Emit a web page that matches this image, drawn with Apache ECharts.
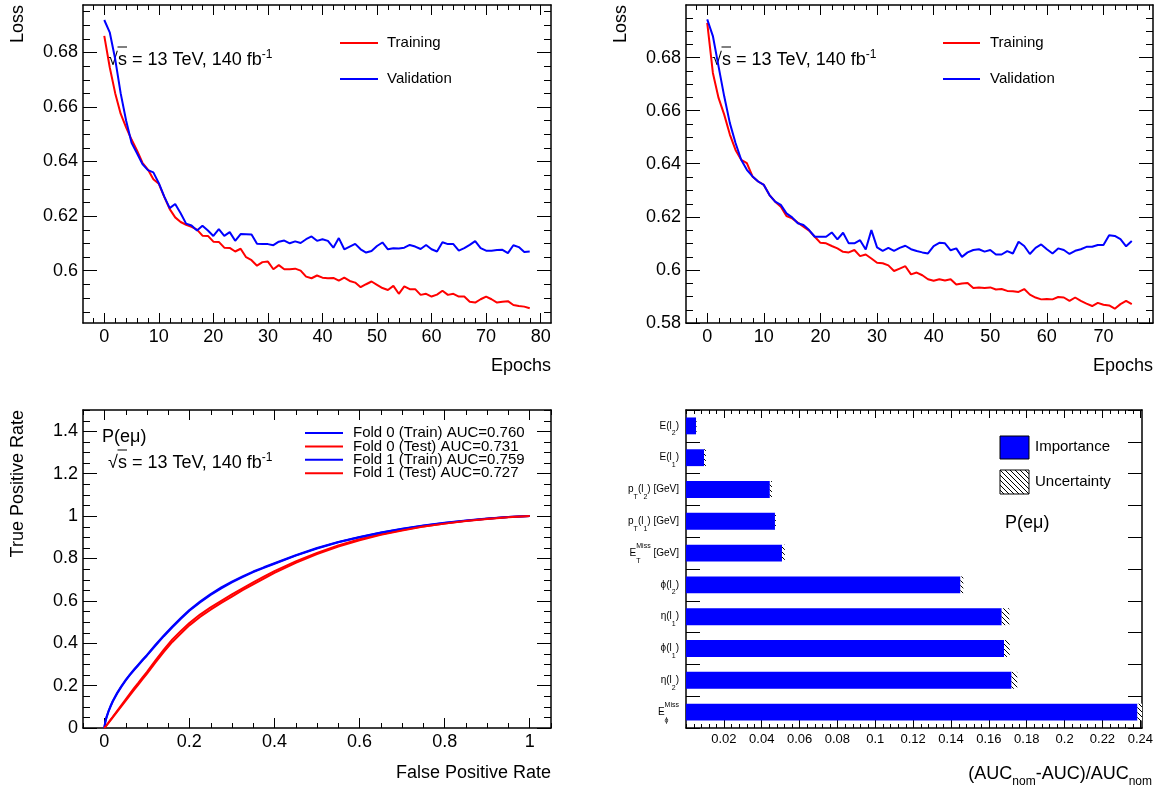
<!DOCTYPE html>
<html><head><meta charset="utf-8">
<script src="https://cdn.jsdelivr.net/npm/echarts@6/dist/echarts.min.js"></script>
<style>html,body{margin:0;padding:0;background:#fff}#c{width:1165px;height:792px}</style>
</head><body><div id="c"></div>
<script>
// ---------------- data ----------------
const lossTrainA = [0.686,0.6745,0.665,0.6575,0.6525,0.648,0.644,0.6395,0.637,0.6335,
0.6318,0.627,0.6225,0.6195,0.6178,0.6168,0.616,0.615,0.6128,0.6127,
0.6106,0.6105,0.6084,0.6083,0.607,0.608,0.6049,0.6038,0.6018,0.6031,
0.6033,0.6005,0.602,0.6005,0.6005,0.6007,0.6,0.5978,0.5972,0.5982,
0.5974,0.5972,0.5973,0.5963,0.5974,0.5962,0.5956,0.5939,0.595,0.596,
0.5948,0.5936,0.5929,0.5944,0.5915,0.5942,0.5932,0.5932,0.5911,0.5915,
0.5905,0.5912,0.5926,0.5911,0.5915,0.5905,0.5905,0.5886,0.5883,0.5895,
0.5905,0.5895,0.5883,0.5886,0.5888,0.5874,0.587,0.5868,0.5862];
const lossValA = [0.6918,0.6873,0.6775,0.665,0.655,0.6468,0.643,0.639,0.6368,0.636,
0.632,0.6271,0.6229,0.6244,0.621,0.6172,0.6165,0.6147,0.6164,0.6147,
0.6127,0.6152,0.6127,0.6141,0.6109,0.6134,0.6133,0.6132,0.6098,0.6097,
0.6097,0.6093,0.6106,0.611,0.61,0.6107,0.6101,0.6115,0.6125,0.6109,
0.6115,0.6109,0.6084,0.6119,0.6078,0.6088,0.6098,0.6078,0.6066,0.6072,
0.609,0.6103,0.6078,0.6082,0.6081,0.6084,0.6094,0.6088,0.6079,0.6094,
0.6078,0.607,0.6104,0.6097,0.6097,0.6073,0.6082,0.6094,0.6108,0.6082,
0.6073,0.6073,0.6075,0.6076,0.6064,0.6093,0.6086,0.6068,0.607];
const lossTrainB = [0.6931,0.6742,0.6648,0.6585,0.651,0.6452,0.6415,0.6402,0.6352,0.6333,
0.632,0.6282,0.6257,0.6238,0.6203,0.6194,0.6178,0.6163,0.6148,0.6125,
0.6102,0.61,0.609,0.6081,0.6068,0.6066,0.6075,0.6052,0.6058,0.6043,
0.6027,0.6025,0.6017,0.5996,0.6005,0.6014,0.5983,0.599,0.598,0.5965,
0.5959,0.5965,0.596,0.5965,0.5945,0.5949,0.5951,0.5932,0.5934,0.5932,
0.5934,0.5926,0.5928,0.5921,0.592,0.5917,0.5928,0.5907,0.5896,0.5889,
0.589,0.5889,0.5898,0.5896,0.5883,0.5896,0.5883,0.5873,0.5864,0.5876,
0.5869,0.5866,0.5854,0.5871,0.5883,0.5871];
const lossValB = [0.6944,0.6881,0.6767,0.6654,0.6553,0.6478,0.6415,0.6377,0.6352,0.6333,
0.632,0.6282,0.6257,0.6245,0.6213,0.6198,0.6176,0.6169,0.615,0.6125,
0.6125,0.6125,0.6141,0.6115,0.614,0.61,0.61,0.6112,0.6077,0.615,
0.6085,0.6072,0.6083,0.6072,0.6083,0.6091,0.6078,0.6071,0.6066,0.6062,
0.609,0.6102,0.61,0.6074,0.6081,0.6049,0.6066,0.6075,0.6078,0.6069,
0.6075,0.6058,0.6058,0.6071,0.6062,0.6106,0.609,0.606,0.6083,0.6096,
0.6078,0.6062,0.6081,0.6075,0.606,0.6072,0.6078,0.6087,0.6087,0.6094,
0.6094,0.6131,0.6128,0.6116,0.6089,0.6109];

const rocFpr     = [0,0.0025,0.005,0.01,0.015,0.02,0.03,0.04,0.05,0.06,0.07,0.08,0.09,0.1,
                    0.12,0.14,0.16,0.18,0.2,0.225,0.25,0.275,0.3,0.325,0.35,0.375,0.4,
                    0.45,0.5,0.55,0.6,0.65,0.7,0.75,0.8,0.85,0.9,0.95,1.0];
const rocF0Train = [0,0.03,0.05,0.08,0.105,0.128,0.165,0.197,0.226,0.252,0.276,0.299,0.322,0.344,
                    0.392,0.437,0.479,0.519,0.557,0.596,0.632,0.663,0.69,0.715,0.738,0.758,0.777,
                    0.815,0.849,0.877,0.901,0.922,0.94,0.955,0.968,0.979,0.988,0.995,1.0];
const rocF0Test  = [0,0.006,0.013,0.026,0.04,0.053,0.08,0.107,0.134,0.161,0.188,0.213,0.239,0.264,
                    0.318,0.37,0.418,0.458,0.495,0.535,0.569,0.6,0.63,0.659,0.687,0.714,0.74,
                    0.786,0.826,0.861,0.89,0.914,0.934,0.951,0.965,0.977,0.987,0.995,1.0];
const rocF1Train = [0,0.028,0.048,0.078,0.102,0.125,0.162,0.194,0.223,0.249,0.273,0.296,0.319,0.341,
                    0.388,0.433,0.475,0.515,0.553,0.592,0.628,0.659,0.687,0.712,0.735,0.755,0.775,
                    0.813,0.847,0.876,0.9,0.921,0.939,0.954,0.967,0.978,0.987,0.995,1.0];
const rocF1Test  = [0,0.005,0.011,0.024,0.037,0.05,0.076,0.102,0.128,0.154,0.18,0.205,0.23,0.255,
                    0.308,0.359,0.406,0.446,0.484,0.524,0.558,0.59,0.62,0.65,0.678,0.705,0.732,
                    0.779,0.82,0.856,0.886,0.911,0.932,0.95,0.964,0.976,0.986,0.994,1.0];
const rocNames = ['Fold 0 (Train) AUC=0.760','Fold 0 (Test) AUC=0.731','Fold 1 (Train) AUC=0.759','Fold 1 (Test) AUC=0.727'];

const featureKeys = ['E(l2)','E(l1)','pT(l2)','pT(l1)','ETmiss','phi(l2)','eta(l1)','phi(l1)','eta(l2)','Ephimiss'];
const importance  = [0.0053,0.0095,0.0443,0.047,0.0507,0.145,0.1668,0.168,0.172,0.2385];
const uncertainty = [0.0003,0.001,0.0011,0.0005,0.0015,0.0015,0.004,0.003,0.003,0.0024];

const lossTicksA = [0.6,0.62,0.64,0.66,0.68];
const lossTicksB = [0.58,0.6,0.62,0.64,0.66,0.68];
const epochTicksA = [0,10,20,30,40,50,60,70,80];
const epochTicksB = [0,10,20,30,40,50,60,70];
const rocTicksX = [0,0.2,0.4,0.6,0.8,1];
const rocTicksY = [0,0.2,0.4,0.6,0.8,1,1.2,1.4];
const aucTicks = [0.02,0.04,0.06,0.08,0.1,0.12,0.14,0.16,0.18,0.2,0.22,0.24];

// ---------------- helpers ----------------
const FONT = '"Liberation Sans", Arial, Helvetica, sans-serif';
function minorsOf(min, max, step, majors) {
  const out = [];
  const s = Math.ceil(min / step - 1e-9), e = Math.floor(max / step + 1e-9);
  for (let k = s; k <= e; k++) {
    const v = +(k * step).toFixed(6);
    if (!majors.some(m => Math.abs(m - v) < step * 1e-3)) out.push(v);
  }
  return out;
}
// one axis per side (labelled side first), major ticks only
function valueAxes(gridIndex, posA, posB, min, max, majors, o) {
  const base = {type: 'value', gridIndex, min, max, splitLine: {show: false}, silent: true};
  return [posA, posB].map((pos, side) => Object.assign({}, base, {
    position: pos,
    axisLine: {show: true, onZero: false, lineStyle: {color: '#000', width: 1.5}},
    axisTick: {show: true, inside: true, length: o.maj, customValues: majors, lineStyle: {color: '#000', width: 1}},
    axisLabel: side === 0 ? {show: true, customValues: majors, margin: o.margin, fontSize: o.fs, color: '#000',
      fontFamily: FONT, formatter: v => String(+(+v).toFixed(4))} : {show: false}
  }));
}
// minor ticks on all four sides, placed through the axes' scales
function minorTickSeries(xi, yi, xMinors, yMinors, xRef, yRef, lenX, lenY) {
  const data = xMinors.map(v => [v, yRef, 0]).concat(yMinors.map(v => [xRef, v, 1]));
  return {type: 'custom', xAxisIndex: xi, yAxisIndex: yi, data, silent: true, animation: false, clip: false, z: 3,
    encode: {x: 0, y: 1},
    renderItem(params, api) {
      const cs = params.coordSys;
      const p = api.coord([api.value(0), api.value(1)]);
      const st = {stroke: '#000', lineWidth: 1};
      if (api.value(2) === 0) {
        const x = Math.round(p[0]) + 0.5, b = cs.y + cs.height, t = cs.y;
        return {type: 'group', children: [
          {type: 'line', shape: {x1: x, y1: b, x2: x, y2: b - lenX}, style: st},
          {type: 'line', shape: {x1: x, y1: t, x2: x, y2: t + lenX}, style: st}]};
      }
      const y = Math.round(p[1]) + 0.5, l = cs.x, r = cs.x + cs.width;
      return {type: 'group', children: [
        {type: 'line', shape: {x1: l, y1: y, x2: l + lenY, y2: y}, style: st},
        {type: 'line', shape: {x1: r, y1: y, x2: r - lenY, y2: y}, style: st}]};
    }};
}

const grids = [
  {left: 83, top: 5, width: 468, height: 318},
  {left: 686, top: 5, width: 467, height: 318},
  {left: 83, top: 410, width: 468, height: 318},
  {left: 686, top: 410, width: 456, height: 318}
].map(g => Object.assign(g, {containLabel: false, outerBoundsMode: 'none'}));

const rngA = {x: [-3.9, 81.9], y: [0.5808, 0.6973]};
const rngB = {x: [-3.75, 78.75], y: [0.58, 0.6998]};
const rngR = {x: [-0.05, 1.05], y: [0, 1.5]};
const rngF = {x: [0, 0.2409]};

const xAxes = [].concat(
  valueAxes(0, 'bottom', 'top', rngA.x[0], rngA.x[1], epochTicksA, {maj: 10, margin: 5, fs: 18}),
  valueAxes(1, 'bottom', 'top', rngB.x[0], rngB.x[1], epochTicksB, {maj: 10, margin: 5, fs: 18}),
  valueAxes(2, 'bottom', 'top', rngR.x[0], rngR.x[1], rocTicksX, {maj: 10, margin: 5, fs: 18}),
  valueAxes(3, 'bottom', 'top', rngF.x[0], rngF.x[1], aucTicks, {maj: 8, margin: 5, fs: 13})
);
const yAxes = [].concat(
  valueAxes(0, 'left', 'right', rngA.y[0], rngA.y[1], lossTicksA, {maj: 14, margin: 5, fs: 18}),
  valueAxes(1, 'left', 'right', rngB.y[0], rngB.y[1], lossTicksB, {maj: 14, margin: 5, fs: 18}),
  valueAxes(2, 'left', 'right', rngR.y[0], rngR.y[1], rocTicksY, {maj: 14, margin: 5, fs: 18})
);

const featLabel = {
  'E(l2)': '{n|E(l}{sb|2}{n|)}',
  'E(l1)': '{n|E(l}{sb|1}{n|)}',
  'pT(l2)': '{n|p}{sb|T}{n|(l}{sb|2}{n|) [GeV]}',
  'pT(l1)': '{n|p}{sb|T}{n|(l}{sb|1}{n|) [GeV]}',
  'ETmiss': '{n|E}{sbz|T}{sp|Miss}{n| [GeV]}',
  'phi(l2)': '{n|ϕ(l}{sb|2}{n|)}',
  'eta(l1)': '{n|η(l}{sb|1}{n|)}',
  'phi(l1)': '{n|ϕ(l}{sb|1}{n|)}',
  'eta(l2)': '{n|η(l}{sb|2}{n|)}',
  'Ephimiss': '{n|E}{sbz|ϕ}{sp|Miss}'
};
const catRich = {
  n: {fontSize: 10, fontFamily: FONT, color: '#000', lineHeight: 22, align: 'left'},
  sb: {fontSize: 7, fontFamily: FONT, color: '#000', lineHeight: 13, verticalAlign: 'bottom', align: 'left'},
  sbz: {fontSize: 7, fontFamily: FONT, color: '#000', lineHeight: 13, verticalAlign: 'bottom', align: 'left', width: 0},
  sp: {fontSize: 7, fontFamily: FONT, color: '#000', lineHeight: 7, verticalAlign: 'top', align: 'left'}
};
const catBase = {type: 'category', gridIndex: 3, data: featureKeys, inverse: true, boundaryGap: true, silent: true,
  splitLine: {show: false},
  axisLine: {show: true, onZero: false, lineStyle: {color: '#000', width: 1.5}}};
yAxes.push(Object.assign({}, catBase, {position: 'left',
  axisTick: {show: true, inside: true, length: 14, interval: 0, lineStyle: {color: '#000', width: 1}},
  axisLabel: {show: true, interval: 0, margin: 7, formatter: v => featLabel[v], rich: catRich}}));
yAxes.push(Object.assign({}, catBase, {position: 'right',
  axisTick: {show: true, inside: true, length: 14, interval: 0, lineStyle: {color: '#000', width: 1}},
  axisLabel: {show: false}}));

function hatch() {
  const c = document.createElement('canvas');
  c.width = 5; c.height = 5;
  const g = c.getContext('2d');
  g.fillStyle = '#fff'; g.fillRect(0, 0, 5, 5);
  g.strokeStyle = '#000'; g.lineWidth = 1;
  g.beginPath();
  g.moveTo(-1, -1); g.lineTo(6, 6);
  g.moveTo(-1, 4); g.lineTo(1, 6);
  g.moveTo(4, -1); g.lineTo(6, 1);
  g.stroke();
  return c;
}
const hatchPattern = {image: hatch(), repeat: 'repeat'};

const lineSer = (name, arr, xi, color) => ({
  type: 'line', name, xAxisIndex: xi, yAxisIndex: xi, showSymbol: false, symbol: 'none',
  data: arr.map((v, i) => [i, v]), lineStyle: {color, width: 2}, itemStyle: {color}, animation: false, silent: true
});
const rocSer = (name, arr, color) => ({
  type: 'line', name, xAxisIndex: 4, yAxisIndex: 4, showSymbol: false, symbol: 'none',
  data: rocFpr.map((x, i) => [x, arr[i]]), lineStyle: {color, width: 2}, itemStyle: {color}, animation: false, silent: true
});

const series = [
  lineSer('Training', lossTrainA, 0, '#ff0000'),
  lineSer('Validation', lossValA, 0, '#0000ff'),
  lineSer('Training', lossTrainB, 2, '#ff0000'),
  lineSer('Validation', lossValB, 2, '#0000ff'),
  rocSer(rocNames[0], rocF0Train, '#0000ff'),
  rocSer(rocNames[1], rocF0Test, '#ff0000'),
  rocSer(rocNames[2], rocF1Train, '#0000ff'),
  rocSer(rocNames[3], rocF1Test, '#ff0000'),
  {type: 'bar', name: 'Importance', xAxisIndex: 6, yAxisIndex: 6, stack: 'imp', barWidth: '53%',
    data: importance, itemStyle: {color: '#0000ff'}, animation: false, silent: true},
  {type: 'bar', name: 'Uncertainty', xAxisIndex: 6, yAxisIndex: 6, stack: 'imp', barWidth: '53%',
    data: uncertainty, itemStyle: {color: hatchPattern}, animation: false, silent: true},
  minorTickSeries(0, 0, minorsOf(rngA.x[0], rngA.x[1], 2, epochTicksA), minorsOf(rngA.y[0], rngA.y[1], 0.005, lossTicksA), 0, 0.6, 5, 7),
  minorTickSeries(2, 2, minorsOf(rngB.x[0], rngB.x[1], 2, epochTicksB), minorsOf(rngB.y[0], rngB.y[1], 0.005, lossTicksB), 0, 0.6, 5, 7),
  minorTickSeries(4, 4, minorsOf(rngR.x[0], rngR.x[1], 0.05, rocTicksX), minorsOf(rngR.y[0], rngR.y[1], 0.05, rocTicksY), 0, 0.5, 5, 7),
  minorTickSeries(6, 6, minorsOf(rngF.x[0], rngF.x[1], 0.004, aucTicks), [], 0.1, 0, 4, 7)
];

// ---------------- text / legends ----------------
const T = (x, y, text, fs, align, extra) => Object.assign({type: 'text', x, y, silent: true,
  style: {text, fontSize: fs, fontFamily: FONT, fill: '#000', align, textAlign: align, verticalAlign: 'middle', textVerticalAlign: 'middle'}}, extra || {});
const L = (x1, y1, x2, y2, color, w) => ({type: 'line', silent: true, shape: {x1, y1, x2, y2}, style: {stroke: color, lineWidth: w || 2}});
const sqrtS = (x, y) => [
  {type: 'text', x, y, silent: true, style: {text: '{n|√s = 13 TeV, 140 fb}{sp|-1}', align: 'left', verticalAlign: 'middle',
    rich: {n: {fontSize: 18, fontFamily: FONT, fill: '#000', color: '#000', lineHeight: 22},
           sp: {fontSize: 12, fontFamily: FONT, fill: '#000', color: '#000', lineHeight: 12, verticalAlign: 'top'}}}},
  L(x + 9.5, y - 13, x + 19, y - 13, '#000', 1)
];
const rot = {rotation: Math.PI / 2};
const graphic = [].concat(
  [T(18.5, 5, 'Loss', 18, 'right', rot), T(551, 366, 'Epochs', 18, 'right')],
  sqrtS(108, 60),
  [L(340, 43, 378, 43, '#ff0000'), T(387, 43, 'Training', 15, 'left'),
   L(340, 79, 378, 79, '#0000ff'), T(387, 79, 'Validation', 15, 'left')],
  [T(621, 5, 'Loss', 18, 'right', rot), T(1153, 366, 'Epochs', 18, 'right')],
  sqrtS(712, 60),
  [L(943, 43, 980, 43, '#ff0000'), T(990, 43, 'Training', 15, 'left'),
   L(943, 79, 980, 79, '#0000ff'), T(990, 79, 'Validation', 15, 'left')],
  [T(18.5, 410, 'True Positive Rate', 18, 'right', rot), T(551, 773, 'False Positive Rate', 18, 'right'),
   T(102, 437, 'P(eμ)', 18, 'left')],
  sqrtS(108, 463),
  [0, 1, 2, 3].map(i => L(305, 433 + i * 13.4, 343, 433 + i * 13.4, i % 2 ? '#ff0000' : '#0000ff')),
  rocNames.map((n, i) => T(353, 433 + i * 13.4, n, 15, 'left')),
  [{type: 'rect', silent: true, shape: {x: 1000, y: 436, width: 29, height: 23}, style: {fill: '#0000ff', stroke: '#000', lineWidth: 1}},
   T(1035, 447, 'Importance', 15, 'left'),
   {type: 'rect', silent: true, shape: {x: 1000, y: 470, width: 29, height: 24}, style: {fill: hatchPattern, stroke: '#000', lineWidth: 1}},
   T(1035, 482, 'Uncertainty', 15, 'left'),
   T(1005, 523, 'P(eμ)', 18, 'left'),
   {type: 'text', x: 1152, y: 774, silent: true, style: {text: '{n|(AUC}{sb|nom}{n|-AUC)/AUC}{sb|nom}', align: 'right', verticalAlign: 'middle',
     rich: {n: {fontSize: 18, fontFamily: FONT, fill: '#000', color: '#000', lineHeight: 28},
            sb: {fontSize: 12, fontFamily: FONT, fill: '#000', color: '#000', lineHeight: 12, verticalAlign: 'bottom'}}}}]
);

const chart = echarts.init(document.getElementById('c'), null, {renderer: 'canvas'});
chart.setOption({
  backgroundColor: '#fff',
  animation: false,
  textStyle: {fontFamily: FONT},
  grid: grids,
  xAxis: xAxes,
  yAxis: yAxes,
  series,
  graphic
});
</script>
</body></html>
